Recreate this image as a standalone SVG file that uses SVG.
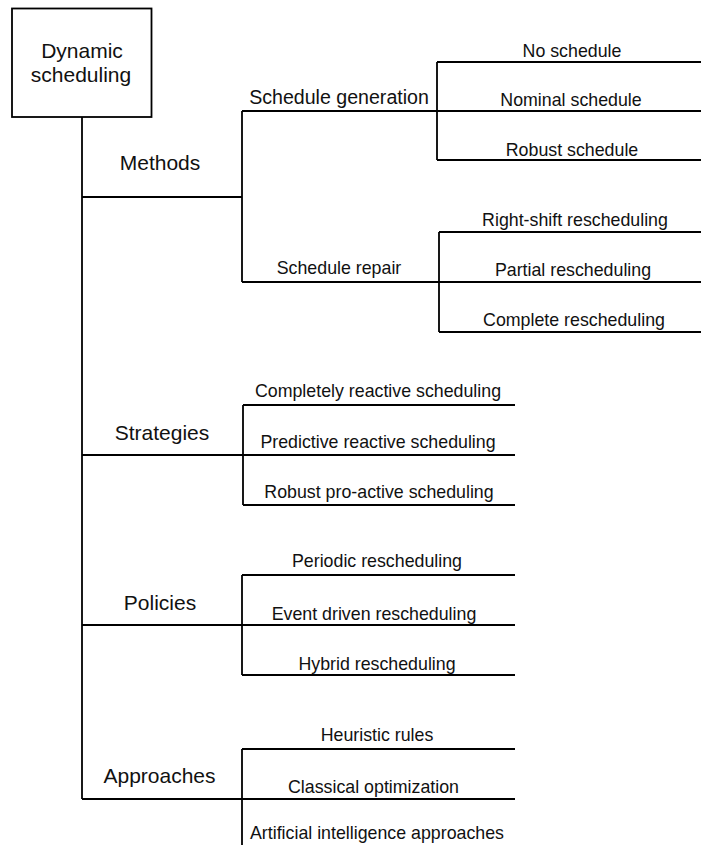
<svg xmlns="http://www.w3.org/2000/svg" width="701" height="845" viewBox="0 0 701 845">
  <style>
    .ln { fill: none; stroke: #000; stroke-width: 1.8; }
    text { font-family: "Liberation Sans", Arial, sans-serif; fill: #111; text-anchor: middle; }
    .t1 { font-size: 21px; }
    .t2 { font-size: 19.6px; }
    .t3 { font-size: 17.8px; }
  </style>
  <rect width="701" height="845" fill="#fff"/>

  <!-- tree connectors -->
  <g id="connectors" class="ln">
    <path d="M82 117 V799"/>
    <!-- Methods branch -->
    <path d="M82 197 H242 M242 111 V282 M242 111 H701 M242 282 H701"/>
    <path d="M437 62 V160 M437 62 H701 M437 160 H701"/>
    <path d="M439 232 V332 M439 232 H701 M439 332 H701"/>
    <!-- Strategies branch -->
    <path d="M82 455 H515 M243 405 V505 M243 405 H515 M243 505 H515"/>
    <!-- Policies branch -->
    <path d="M82 625 H515 M242 575 V675 M242 575 H515 M242 675 H515"/>
    <!-- Approaches branch -->
    <path d="M82 799 H515 M242 749 V845 M242 749 H515"/>
  </g>

  <g id="root">
    <rect class="ln" x="12" y="8.5" width="139.5" height="108.5" fill="#fff"/>
    <text class="t1" x="82" y="58">Dynamic</text>
    <text class="t1" x="81" y="82">scheduling</text>
  </g>

  <g id="methods"><text class="t1" x="160" y="170">Methods</text></g>
  <g id="schedule-generation"><text class="t2" x="339" y="104">Schedule generation</text></g>
  <g id="no-schedule"><text class="t3" x="572" y="57">No schedule</text></g>
  <g id="nominal-schedule"><text class="t3" x="571" y="106">Nominal schedule</text></g>
  <g id="robust-schedule"><text class="t3" x="572" y="156">Robust schedule</text></g>
  <g id="schedule-repair"><text class="t3" x="339" y="274">Schedule repair</text></g>
  <g id="right-shift"><text class="t3" x="575" y="226">Right-shift rescheduling</text></g>
  <g id="partial"><text class="t3" x="573" y="276">Partial rescheduling</text></g>
  <g id="complete"><text class="t3" x="574" y="326">Complete rescheduling</text></g>

  <g id="strategies"><text class="t1" x="162" y="440">Strategies</text></g>
  <g id="completely-reactive"><text class="t3" x="378" y="397">Completely reactive scheduling</text></g>
  <g id="predictive-reactive"><text class="t3" x="378" y="448">Predictive reactive scheduling</text></g>
  <g id="robust-proactive"><text class="t3" x="379" y="498">Robust pro-active scheduling</text></g>

  <g id="policies"><text class="t1" x="160" y="610">Policies</text></g>
  <g id="periodic"><text class="t3" x="377" y="567">Periodic rescheduling</text></g>
  <g id="event-driven"><text class="t3" x="374" y="620">Event driven rescheduling</text></g>
  <g id="hybrid"><text class="t3" x="377" y="670">Hybrid rescheduling</text></g>

  <g id="approaches"><text class="t1" x="159.5" y="783">Approaches</text></g>
  <g id="heuristic"><text class="t3" x="377" y="741">Heuristic rules</text></g>
  <g id="classical"><text class="t3" x="373.5" y="793">Classical optimization</text></g>
  <g id="ai"><text class="t3" x="377" y="839">Artificial intelligence approaches</text></g>
</svg>
